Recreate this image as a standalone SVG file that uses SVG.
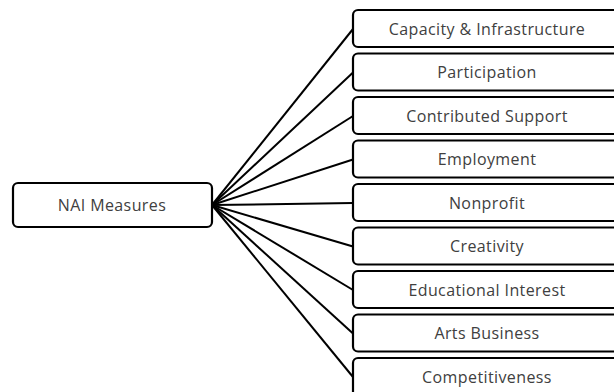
<svg xmlns="http://www.w3.org/2000/svg" width="614" height="392" viewBox="0 0 614 392">
<style>
.box{fill:#fff;stroke:#000;stroke-width:2.2}
.lbl{font-family:"Open Sans","Liberation Sans",sans-serif;font-size:16px;letter-spacing:0.4px;fill:#404040;text-anchor:middle;dominant-baseline:central}
.conn line{stroke:#000;stroke-width:2}
</style>
<rect width="614" height="392" fill="#fff"/>
<g class="conn">
<line x1="212" y1="205" x2="353" y2="29"/>
<line x1="212" y1="205" x2="353" y2="72.5"/>
<line x1="212" y1="205" x2="353" y2="116"/>
<line x1="212" y1="205" x2="353" y2="159.5"/>
<line x1="212" y1="205" x2="353" y2="203"/>
<line x1="212" y1="205" x2="353" y2="246.5"/>
<line x1="212" y1="205" x2="353" y2="290"/>
<line x1="212" y1="205" x2="353" y2="333.5"/>
<line x1="212" y1="205" x2="353" y2="377"/>
</g>
<g id="root"><rect class="box" x="13" y="183" width="199" height="44" rx="5"/><text class="lbl" x="112" y="205">NAI Measures</text></g>
<g id="n1"><rect class="box" x="353" y="10" width="280" height="37" rx="5"/><text class="lbl" x="487" y="28.5">Capacity &amp; Infrastructure</text></g>
<g id="n2"><rect class="box" x="353" y="53.5" width="280" height="37" rx="5"/><text class="lbl" x="487" y="72">Participation</text></g>
<g id="n3"><rect class="box" x="353" y="97" width="280" height="37" rx="5"/><text class="lbl" x="487" y="115.5">Contributed Support</text></g>
<g id="n4"><rect class="box" x="353" y="140.5" width="280" height="37" rx="5"/><text class="lbl" x="487" y="159">Employment</text></g>
<g id="n5"><rect class="box" x="353" y="184" width="280" height="37" rx="5"/><text class="lbl" x="487" y="202.5">Nonprofit</text></g>
<g id="n6"><rect class="box" x="353" y="227.5" width="280" height="37" rx="5"/><text class="lbl" x="487" y="246">Creativity</text></g>
<g id="n7"><rect class="box" x="353" y="271" width="280" height="37" rx="5"/><text class="lbl" x="487" y="289.5">Educational Interest</text></g>
<g id="n8"><rect class="box" x="353" y="314.5" width="280" height="37" rx="5"/><text class="lbl" x="487" y="333">Arts Business</text></g>
<g id="n9"><rect class="box" x="353" y="358" width="280" height="44" rx="5"/><text class="lbl" x="487" y="377">Competitiveness</text></g>
</svg>
